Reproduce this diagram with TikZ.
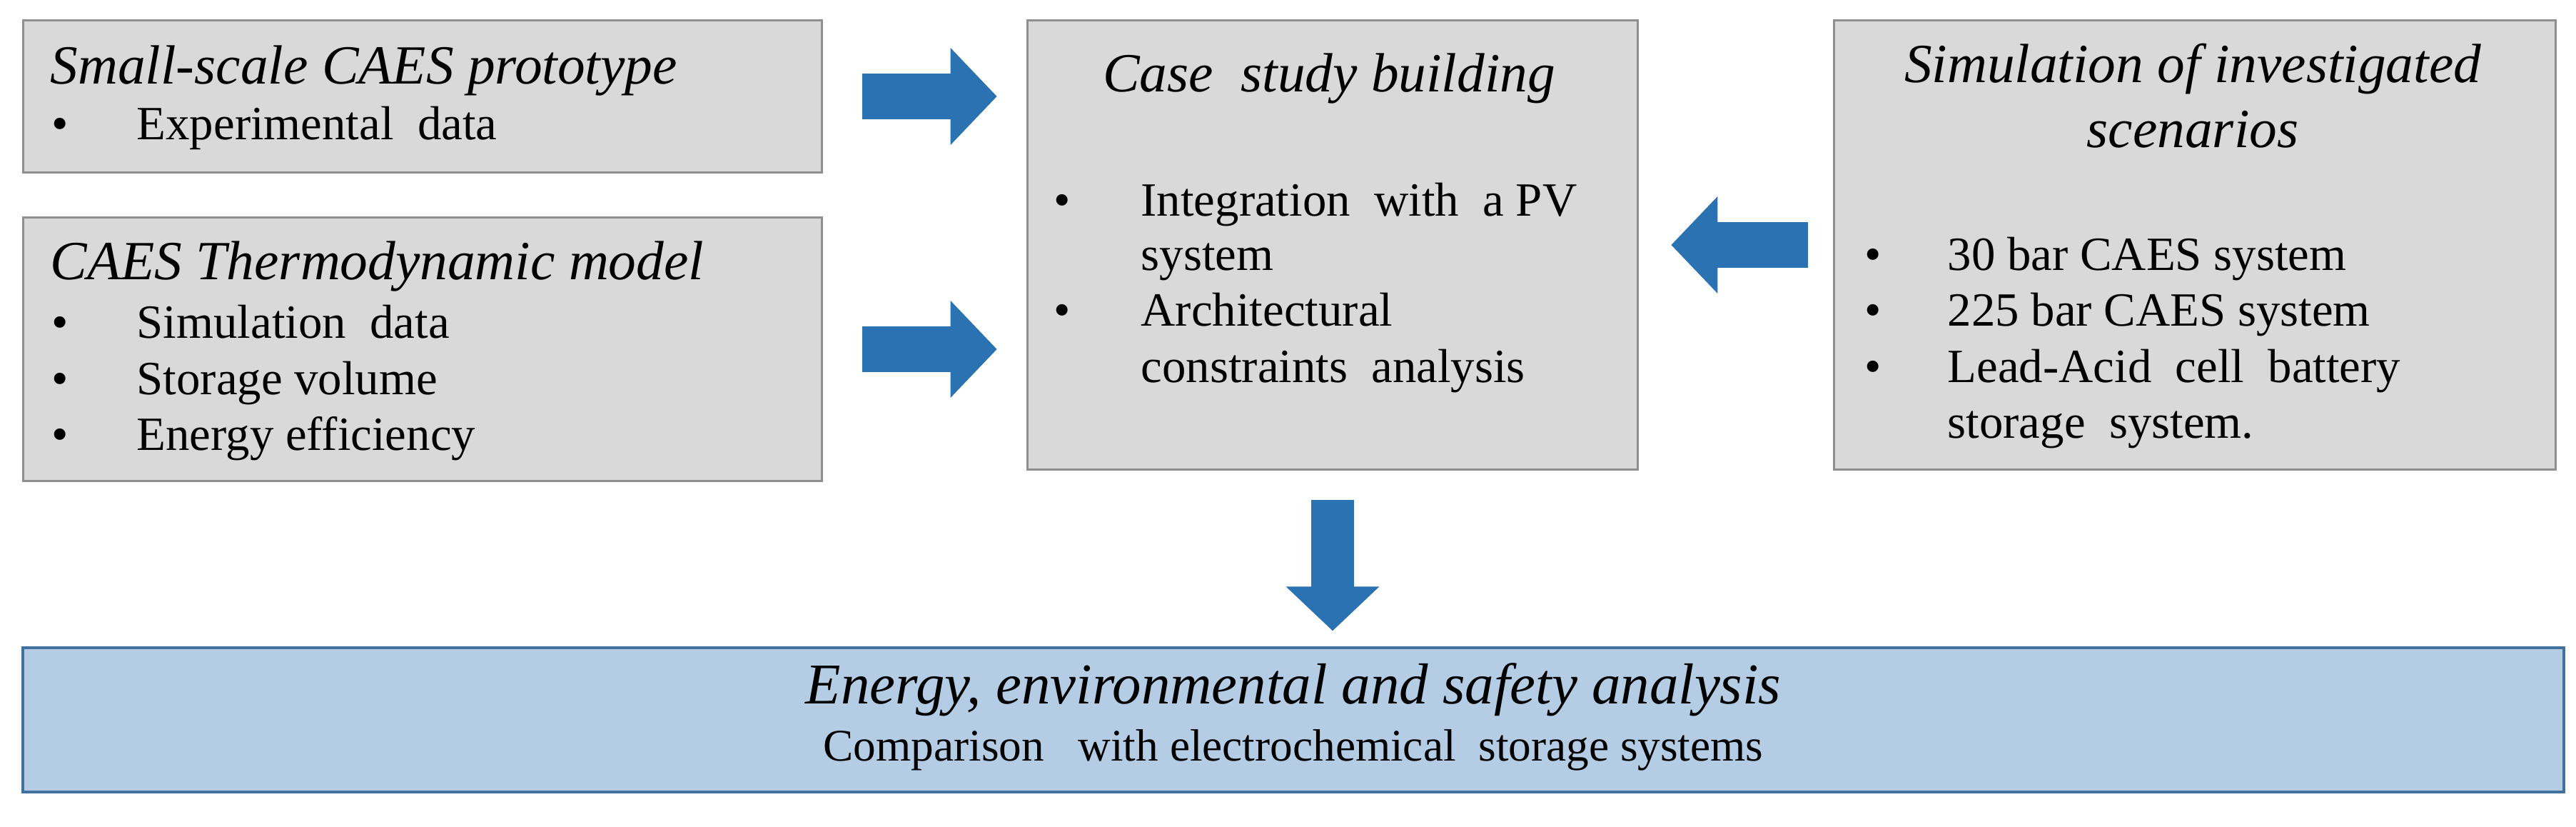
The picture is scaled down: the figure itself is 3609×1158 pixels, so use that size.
\documentclass[tikz,border=0pt]{standalone}
\usepackage{fontspec}
\setmainfont{Liberation Serif}
\usetikzlibrary{arrows.meta,positioning}

\definecolor{boxgray}{HTML}{D9D9D9}
\definecolor{boxline}{HTML}{8F8F8F}
\definecolor{resfill}{HTML}{B4CCE4}
\definecolor{resline}{HTML}{41719C}
\definecolor{arrowblue}{HTML}{2A72B2}

\begin{document}
\begin{tikzpicture}[x=0.01cm,y=-0.01cm]
		\tikzstyle{block} = [draw=boxline,fill=boxgray,line width=0.03cm,inner sep=0]
		\tikzstyle{result} = [draw=resline,fill=resfill,line width=0.04cm,inner sep=0]
		\tikzstyle{head} = [anchor=base west,inner sep=0,font=\fontsize{22}{26}\selectfont\itshape]
		\tikzstyle{item} = [anchor=base west,inner sep=0,font=\fontsize{19}{23}\selectfont]
		\tikzstyle{dot} = [anchor=base west,inner sep=0,font=\fontsize{19}{23}\selectfont]
		\tikzstyle{bigarrow} = [arrowblue,line width=0.64cm,-{Triangle[length=0.65cm,width=1.32cm]}]
		\newcommand{\bul}{\textbullet}

		\useasboundingbox (0,0) rectangle (3609,1158);

		% Boxes
		\node [block,minimum width=11.18cm,minimum height=2.12cm] (proto) at (592,135) {};
		\node [block,minimum width=11.18cm,minimum height=3.68cm] (model) at (592,489) {};
		\node [block,minimum width=8.55cm,minimum height=6.29cm] (building) at (1867,343) {};
		\node [block,minimum width=10.10cm,minimum height=6.29cm] (scenarios) at (3075,343) {};
		\node [result,minimum width=35.57cm,minimum height=2.01cm] (analysis) at (1812,1008) {};

		% Texts of the first box
		\node [head] (protoTitle) at (70,118) {Small-scale CAES prototype};
		\node [dot] at (72,196) {\bul};
		\node [item] (protoItem) at (191,196) {Experimental\ \ data};

		% Texts of the second box
		\node [head] (modelTitle) at (70,392) {CAES Thermodynamic model};
		\foreach \y/\txt in {473/Simulation\ \ data,552/Storage volume,630/Energy efficiency}{
		  \node [dot] at (72,\y) {\bul};
		  \node [item] at (191,\y) {\txt};
		}

		% Texts of the middle box
		\node [head,anchor=base] (buildingTitle) at (1862,129) {Case\ \ study building};
		\node [dot] at (1476,303) {\bul};
		\node [item] at (1598,303) {Integration\ \ with\ \ a PV};
		\node [item] at (1598,379) {system};
		\node [dot] at (1476,457) {\bul};
		\node [item] at (1598,457) {Architectural};
		\node [item] at (1598,535) {constraints\ \ analysis};

		% Texts of the right box
		\node [head,anchor=base] (scenTitle) at (3072,116) {Simulation of investigated};
		\node [head,anchor=base] at (3072,207) {scenarios};
		\node [dot] at (2612,379) {\bul};
		\node [item] at (2728,379) {30 bar CAES system};
		\node [dot] at (2612,457) {\bul};
		\node [item] at (2728,457) {225 bar CAES system};
		\node [dot] at (2612,535) {\bul};
		\node [item] at (2728,535) {Lead-Acid\ \ cell\ \ battery};
		\node [item] at (2728,613) {storage\ \ system.};

		% Texts of the bottom box
		\node [head,anchor=base,font=\fontsize{23}{27}\selectfont\itshape] (anaTitle) at (1812,985) {Energy, environmental and safety analysis};
		\node [item,anchor=base,font=\fontsize{18}{22}\selectfont] at (1812,1065) {Comparison\ \ \ with electrochemical\ \ storage systems};

		% Arrows
		\draw [bigarrow,shorten <=0.55cm,shorten >=0.41cm] (proto.east) -- (proto.east -| building.west);
		\draw [bigarrow,shorten <=0.55cm,shorten >=0.41cm] (model.east) -- (model.east -| building.west);
		\draw [bigarrow,shorten <=0.35cm,shorten >=0.45cm] (scenarios.west) -- (scenarios.west -| building.east);
		\draw [bigarrow,line width=0.60cm,-{Triangle[length=0.62cm,width=1.27cm]},shorten <=0.41cm,shorten >=0.22cm] (building.south) -- (building.south |- analysis.north);
	\end{tikzpicture}
\end{document}
